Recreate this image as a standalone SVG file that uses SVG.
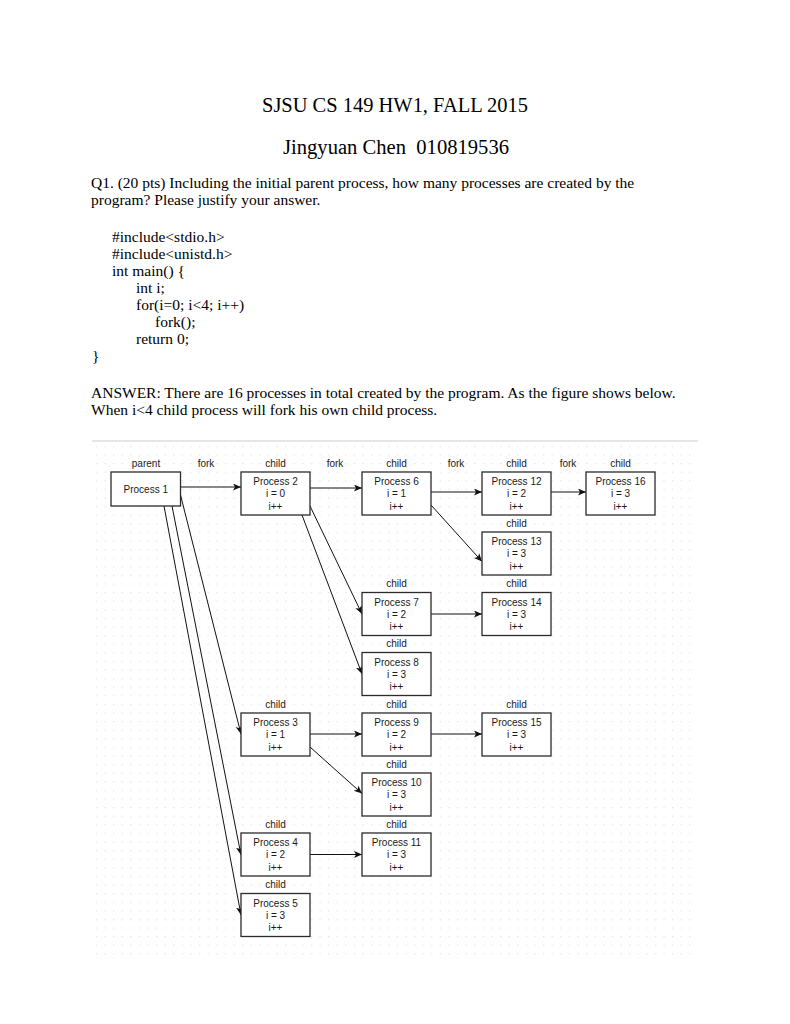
<svg xmlns="http://www.w3.org/2000/svg" width="790" height="1024" viewBox="0 0 790 1024">
<style>
.doc{font-family:"Liberation Serif","Times New Roman",serif;fill:#000}
.t1{font-size:20.5px}
.body{font-size:15.5px}
.lbl{font-family:"Liberation Sans",Arial,Helvetica,sans-serif;font-size:10px;fill:#1a1a1a;text-anchor:middle}
.box{fill:#fff;stroke:#2b2b2b;stroke-width:1.3}
.edge{fill:none;stroke:#111;stroke-width:1}
</style>
<defs>
<pattern id="dots" x="92" y="442" width="8.6" height="8.6" patternUnits="userSpaceOnUse">
<rect x="4" y="4" width="1" height="1" fill="#d4d4d4"/>
</pattern>
<marker id="arr" markerUnits="userSpaceOnUse" markerWidth="10" markerHeight="8" refX="8" refY="3.5" orient="auto">
<path d="M0,0 L8,3.5 L0,7 L2,3.5 Z" fill="#111"/>
</marker>
</defs>
<rect width="790" height="1024" fill="#fff"/>

<g id="header">
<text class="doc t1" x="262" y="112" textLength="266" lengthAdjust="spacingAndGlyphs">SJSU CS 149 HW1, FALL 2015</text>
<text class="doc t1" x="283" y="154" textLength="226" lengthAdjust="spacingAndGlyphs" xml:space="preserve">Jingyuan Chen  010819536</text>
</g>
<g id="question" class="doc body">
<text x="91" y="188">Q1. (20 pts) Including the initial parent process, how many processes are created by the</text>
<text x="91" y="205">program? Please justify your answer.</text>
<text x="112" y="242">#include&lt;stdio.h&gt;</text>
<text x="112" y="259">#include&lt;unistd.h&gt;</text>
<text x="112" y="276">int main() {</text>
<text x="136" y="293">int i;</text>
<text x="136" y="310">for(i=0; i&lt;4; i++)</text>
<text x="155" y="327">fork();</text>
<text x="136" y="344">return 0;</text>
<text x="92" y="361">}</text>
<text x="91" y="398">ANSWER: There are 16 processes in total created by the program. As the figure shows below.</text>
<text x="91" y="415">When i&lt;4 child process will fork his own child process.</text>
</g>

<g id="canvas">
<rect x="92" y="442" width="606" height="513" fill="url(#dots)"/>
<line x1="92" y1="441" x2="698" y2="441" stroke="#e6e6e6" stroke-width="2"/>
</g>

<g id="header-labels" class="lbl">
<text x="146" y="466.5">parent</text>
<text x="206" y="466.5">fork</text>
<text x="335" y="466.5">fork</text>
<text x="456" y="466.5">fork</text>
<text x="568" y="466.5">fork</text>
</g>

<g id="connectors" class="edge" marker-end="url(#arr)">
<line x1="180.5" y1="487" x2="241" y2="487"/>
<line x1="310" y1="488" x2="362" y2="488"/>
<line x1="431" y1="492" x2="482" y2="492"/>
<line x1="551" y1="492" x2="586" y2="492"/>
<line x1="431" y1="505" x2="482" y2="561.5"/>
<line x1="310" y1="506" x2="362" y2="614"/>
<line x1="302" y1="515" x2="362" y2="674"/>
<line x1="431" y1="614" x2="482" y2="614"/>
<line x1="180.5" y1="495" x2="241" y2="734"/>
<line x1="172" y1="506" x2="241" y2="855"/>
<line x1="164" y1="506" x2="241" y2="915"/>
<line x1="310" y1="734" x2="362" y2="734"/>
<line x1="431" y1="734" x2="482" y2="734"/>
<line x1="310" y1="747" x2="362" y2="793.5"/>
<line x1="310" y1="854.5" x2="362" y2="854.5"/>
</g>

<g id="p1" class="lbl">
<rect class="box" x="111" y="472" width="69.5" height="34"/>
<text x="145.75" y="492.5">Process 1</text>
</g>
<g id="p2" class="lbl" transform="translate(241,472)">
<text x="34.5" y="-5.5">child</text>
<rect class="box" x="0" y="0" width="69" height="43"/>
<text x="34.5" y="13">Process 2</text><text x="34.5" y="25">i = 0</text><text x="34.5" y="37.5">i++</text>
</g>
<g id="p6" class="lbl" transform="translate(362,472)">
<text x="34.5" y="-5.5">child</text>
<rect class="box" x="0" y="0" width="69" height="43"/>
<text x="34.5" y="13">Process 6</text><text x="34.5" y="25">i = 1</text><text x="34.5" y="37.5">i++</text>
</g>
<g id="p12" class="lbl" transform="translate(482,472)">
<text x="34.5" y="-5.5">child</text>
<rect class="box" x="0" y="0" width="69" height="43"/>
<text x="34.5" y="13">Process 12</text><text x="34.5" y="25">i = 2</text><text x="34.5" y="37.5">i++</text>
</g>
<g id="p16" class="lbl" transform="translate(586,472)">
<text x="34.5" y="-5.5">child</text>
<rect class="box" x="0" y="0" width="69" height="43"/>
<text x="34.5" y="13">Process 16</text><text x="34.5" y="25">i = 3</text><text x="34.5" y="37.5">i++</text>
</g>
<g id="p13" class="lbl" transform="translate(482,532)">
<text x="34.5" y="-5.5">child</text>
<rect class="box" x="0" y="0" width="69" height="43"/>
<text x="34.5" y="13">Process 13</text><text x="34.5" y="25">i = 3</text><text x="34.5" y="37.5">i++</text>
</g>
<g id="p7" class="lbl" transform="translate(362,592.5)">
<text x="34.5" y="-5.5">child</text>
<rect class="box" x="0" y="0" width="69" height="43"/>
<text x="34.5" y="13">Process 7</text><text x="34.5" y="25">i = 2</text><text x="34.5" y="37.5">i++</text>
</g>
<g id="p14" class="lbl" transform="translate(482,592.5)">
<text x="34.5" y="-5.5">child</text>
<rect class="box" x="0" y="0" width="69" height="43"/>
<text x="34.5" y="13">Process 14</text><text x="34.5" y="25">i = 3</text><text x="34.5" y="37.5">i++</text>
</g>
<g id="p8" class="lbl" transform="translate(362,652.5)">
<text x="34.5" y="-5.5">child</text>
<rect class="box" x="0" y="0" width="69" height="43"/>
<text x="34.5" y="13">Process 8</text><text x="34.5" y="25">i = 3</text><text x="34.5" y="37.5">i++</text>
</g>
<g id="p3" class="lbl" transform="translate(241,713)">
<text x="34.5" y="-5.5">child</text>
<rect class="box" x="0" y="0" width="69" height="43"/>
<text x="34.5" y="13">Process 3</text><text x="34.5" y="25">i = 1</text><text x="34.5" y="37.5">i++</text>
</g>
<g id="p9" class="lbl" transform="translate(362,713)">
<text x="34.5" y="-5.5">child</text>
<rect class="box" x="0" y="0" width="69" height="43"/>
<text x="34.5" y="13">Process 9</text><text x="34.5" y="25">i = 2</text><text x="34.5" y="37.5">i++</text>
</g>
<g id="p15" class="lbl" transform="translate(482,713)">
<text x="34.5" y="-5.5">child</text>
<rect class="box" x="0" y="0" width="69" height="43"/>
<text x="34.5" y="13">Process 15</text><text x="34.5" y="25">i = 3</text><text x="34.5" y="37.5">i++</text>
</g>
<g id="p10" class="lbl" transform="translate(362,773)">
<text x="34.5" y="-5.5">child</text>
<rect class="box" x="0" y="0" width="69" height="43"/>
<text x="34.5" y="13">Process 10</text><text x="34.5" y="25">i = 3</text><text x="34.5" y="37.5">i++</text>
</g>
<g id="p4" class="lbl" transform="translate(241,833)">
<text x="34.5" y="-5.5">child</text>
<rect class="box" x="0" y="0" width="69" height="43"/>
<text x="34.5" y="13">Process 4</text><text x="34.5" y="25">i = 2</text><text x="34.5" y="37.5">i++</text>
</g>
<g id="p11" class="lbl" transform="translate(362,833)">
<text x="34.5" y="-5.5">child</text>
<rect class="box" x="0" y="0" width="69" height="43"/>
<text x="34.5" y="13">Process 11</text><text x="34.5" y="25">i = 3</text><text x="34.5" y="37.5">i++</text>
</g>
<g id="p5" class="lbl" transform="translate(241,893.5)">
<text x="34.5" y="-5.5">child</text>
<rect class="box" x="0" y="0" width="69" height="43"/>
<text x="34.5" y="13">Process 5</text><text x="34.5" y="25">i = 3</text><text x="34.5" y="37.5">i++</text>
</g>
</svg>
